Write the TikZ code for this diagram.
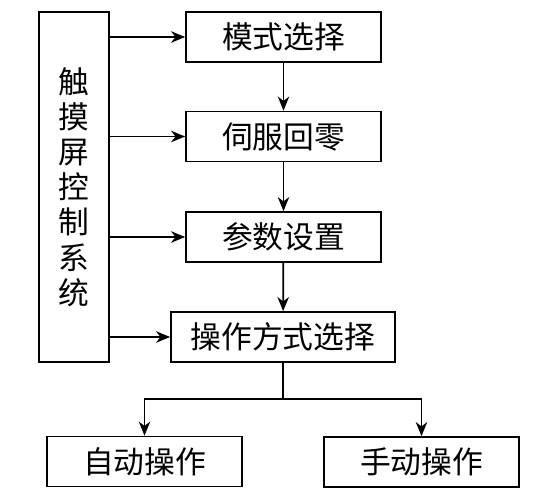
\documentclass[tikz,border=0pt]{standalone}
\usepackage{fontspec}
\usepackage{tikz}
\usetikzlibrary{arrows.meta}
\newfontfamily\cjk{Noto Sans CJK SC}

\begin{document}
\begin{tikzpicture}[>={Stealth[length=8pt, width=6.5pt, inset=2.5pt]}, line width=1pt, x=0.02cm, y=-0.02cm,
    box/.style={draw, font=\cjk\fontsize{17.5}{20}\selectfont, minimum width=3.9cm, minimum height=1cm, inner sep=0pt}]

        \useasboundingbox (0,0) rectangle (539,498);

        % Linke Spalte
        \node[box, minimum width=1.4cm, minimum height=7cm, align=center] at (74,187) (ctrl) {触\\摸\\屏\\控\\制\\系\\统};

        % Mittlere Spalte
        \node[box] at (283.5,37) (mode) {模式选择};
        \node[box] at (283.5,136.5) (servo) {伺服回零};
        \node[box] at (283.5,237) (param) {参数设置};
        \node[box, minimum width=4.48cm] at (283,337) (opsel) {操作方式选择};

        % Untere Zeile
        \node[box] at (144.5,461.5) (auto) {自动操作};
        \node[box] at (421.5,462) (manual) {手动操作};

        % Pfeile von links
        \draw[->] (ctrl.east |- mode.west) -- (mode.west);
        \draw[->] (ctrl.east |- servo.west) -- (servo.west);
        \draw[->] (ctrl.east |- param.west) -- (param.west);
        \draw[->] (ctrl.east |- opsel.west) -- (opsel.west);

        % Pfeile Mitte
        \draw[->] (mode) -- (servo);
        \draw[->] (servo) -- (param);
        \draw[->] (param) -- (opsel);

        % Verzweigung
        \draw[->] (opsel.south) -- ++(0,36) -| (auto);
        \draw[->] (opsel.south) -- ++(0,36) -| (manual);

    \end{tikzpicture}
\end{document}
